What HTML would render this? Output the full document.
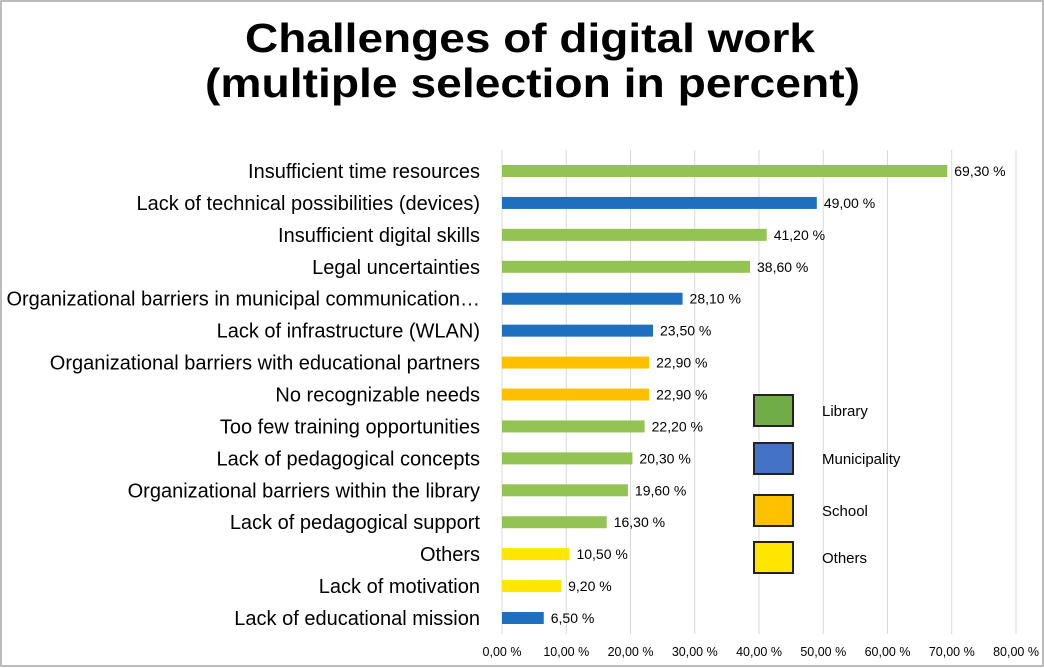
<!DOCTYPE html>
<html><head><meta charset="utf-8"><style>
body{margin:0;background:#fff}
svg{display:block;font-family:"Liberation Sans",sans-serif}
</style></head><body>
<svg id="c" width="1044" height="668" viewBox="0 0 1044 668">
<rect x="1" y="1" width="1042" height="665" fill="#fff" stroke="#a6a6a6" stroke-width="1.5"/>
<text x="245" y="52" textLength="570" lengthAdjust="spacingAndGlyphs" font-size="41" font-weight="bold">Challenges of digital work</text>
<text x="205" y="97" textLength="655" lengthAdjust="spacingAndGlyphs" font-size="41" font-weight="bold">(multiple selection in percent)</text>
<g id="grid"></g><g id="bars"></g><g id="legend"></g>
</svg>
<script>
const categories=["Insufficient time resources","Lack of technical possibilities (devices)","Insufficient digital skills","Legal uncertainties","Organizational barriers in municipal communication…","Lack of infrastructure (WLAN)","Organizational barriers with educational partners","No recognizable needs","Too few training opportunities","Lack of pedagogical concepts","Organizational barriers within the library","Lack of pedagogical support","Others","Lack of motivation","Lack of educational mission"];
const values=[69.3,49.0,41.2,38.6,28.1,23.5,22.9,22.9,22.2,20.3,19.6,16.3,10.5,9.2,6.5];
const groups=["Library","Municipality","Library","Library","Municipality","Municipality","School","School","Library","Library","Library","Library","Others","Others","Municipality"];
const ticks=[0,10,20,30,40,50,60,70,80];
const legendNames=["Library","Municipality","School","Others"];
const barColor={Library:"#92c353",Municipality:"#1f6fbf",School:"#ffc000",Others:"#ffe600"};
const legColor={Library:"#70ad47",Municipality:"#4472c4",School:"#ffc000",Others:"#ffe600"};
const NS="http://www.w3.org/2000/svg";
const x0=502,x1=1016,xmax=80,yTop=155,step=31.93;
const xs=v=>x0+v/xmax*(x1-x0);
const ys=i=>yTop+step*i+16;
const fmt=v=>v.toFixed(2).replace('.',',')+' %';
function mk(t,a,p){const e=document.createElementNS(NS,t);for(const k in a)e.setAttribute(k,a[k]);p.appendChild(e);return e;}
const g=document.getElementById('grid'),b=document.getElementById('bars'),l=document.getElementById('legend');
ticks.forEach(t=>{
 const ln=mk('line',{x1:xs(t),x2:xs(t),y1:150,y2:634,stroke:'#d9d9d9','stroke-width':1},g);
 
 
 const tx=mk('text',{x:xs(t),y:656,'text-anchor':'middle','font-size':12.5},g);
 tx.textContent=fmt(t);
 
 
});
categories.forEach((c,i)=>{
 const y=ys(i);
 const lb=mk('text',{x:480,y:y+7,'text-anchor':'end','font-size':20},b);
 lb.textContent=c;
 
 
 if(lb.getComputedTextLength()>474){lb.setAttribute('textLength',474);lb.setAttribute('lengthAdjust','spacingAndGlyphs');}
 const r=mk('rect',{x:x0,y:y-6,width:xs(values[i])-x0,height:12,fill:barColor[groups[i]]},b);
 
 
 const vt=mk('text',{x:xs(values[i])+7,y:y+5,'font-size':14},b);
 vt.textContent=fmt(values[i]);
 
 
});
const legY=[395,443,495,542];
legendNames.forEach((n,i)=>{
 const r=mk('rect',{x:754,y:legY[i],width:39,height:31,fill:legColor[n],stroke:'#222','stroke-width':2},l);
 
 
 const t=mk('text',{x:822,y:legY[i]+21,'font-size':15},l);
 t.textContent=n;
 
 
});
</script>
</body></html>
